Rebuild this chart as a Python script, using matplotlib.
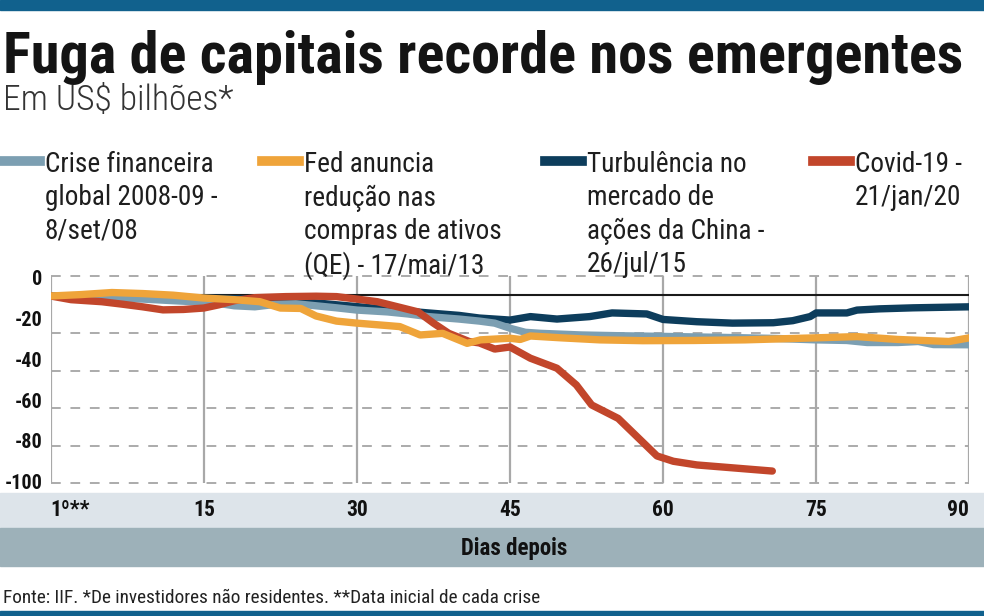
import matplotlib
matplotlib.use('Agg')
import matplotlib.pyplot as plt
from matplotlib import font_manager as fm
from matplotlib.lines import Line2D
from matplotlib.patches import Rectangle

# Dados (US$ bilhões, dias depois do início de cada crise)
crise_dias = [0, 3, 6, 9, 12, 14, 16, 18, 20, 22, 24, 26, 28, 30, 33, 35, 37, 40, 42, 43.5,
              45, 46.5, 48, 52, 56, 60, 66, 71, 75, 78, 80, 83, 85, 86.5, 90]
crise_vals = [-9, -9.5, -10, -10.5, -11.3, -11.8, -12.3, -13.8, -14.3, -13.1, -12.8, -13.8,
              -14.8, -15.9, -16.8, -17.8, -19.1, -20.3, -21.3, -22.3, -24.8, -26.8, -27.3,
              -28.1, -28.5, -28.8, -29.3, -29.8, -30.5, -30.8, -31.8, -31.8, -31.3, -32.8, -32.9]

fed_dias = [0, 3, 6, 9, 12, 15, 18, 20.5, 22.5, 24.5, 26, 28, 30, 33, 34.2, 36.2, 38.4, 40.8,
            42.1, 45, 46, 47, 50, 53.8, 58, 63, 68, 75, 79, 83, 88, 90]
fed_vals = [-9, -8.3, -7.3, -7.8, -8.6, -10, -10.8, -11.8, -14.9, -15.1, -18.8, -21.3, -22.3,
            -23.5, -24, -28.1, -27.3, -32.2, -30.5, -29.7, -30.3, -28.6, -29.5, -30.5, -30.9,
            -30.8, -30.5, -29.5, -28.9, -30.3, -31.3, -29.5]

china_dias = [0, 5, 10, 15, 20, 23, 28, 34, 37, 40, 42, 45, 47, 49.6, 52.8, 55, 58.4, 60,
              63.3, 66.8, 70.8, 72.7, 74.4, 75, 78, 79, 81.2, 84.5, 90]
china_vals = [-9, -9.3, -9.8, -10, -10.5, -11, -13.3, -16, -17.3, -18.5, -19.8, -20.8, -19.1,
              -20.3, -19.1, -17.3, -17.8, -20.5, -21.6, -22.3, -22.1, -21.1, -19.1, -17.3,
              -17.3, -15.9, -15.3, -14.8, -14.3]

covid_dias = [0, 2, 5, 7, 9, 11, 13, 15, 16.5, 18, 20, 23, 26, 28, 30, 32, 34, 36, 37.5, 39,
              41, 42, 43.5, 45, 47, 49.6, 51.5, 53, 55.6, 59.4, 61, 63.3, 70.7]
covid_vals = [-9, -10.8, -11.8, -13, -14.3, -15.8, -15.6, -14.9, -13.3, -11.3, -9.8, -9.3,
              -9.1, -9.3, -10.5, -11.8, -14.3, -16.8, -22.3, -27.3, -31.3, -32, -35, -34,
              -39.5, -44.4, -52.6, -62.4, -69, -87.4, -90, -91.8, -94.8]

legendas = ['Crise financeira\nglobal 2008-09 -\n8/set/08',
            'Fed anuncia\nredução nas\ncompras de ativos\n(QE) - 17/mai/13',
            'Turbulência no\nmercado de\nações da China -\n26/jul/15',
            'Covid-19 -\n21/jan/20']
cores = ['#7c9fb2', '#efa43a', '#0d3d5c', '#c2462b']

x_ticks = [0, 15, 30, 45, 60, 75, 90]
x_labels = ['1º**', '15', '30', '45', '60', '75', '90']
y_ticks = [0, -20, -40, -60, -80, -100]
y_labels = ['0', '-20', '-40', '-60', '-80', '-100']
grade = [0.8, -27, -45.6, -64, -82.5, -100.8]
linha_ref = -8.5


def pick_font(names):
    for n in names:
        try:
            fm.findfont(fm.FontProperties(family=n), fallback_to_default=False)
            return n
        except ValueError:
            continue
    return 'DejaVu Sans'


FONTE = pick_font(['Roboto Condensed', 'Liberation Sans Narrow', 'Open Sans Condensed',
                   'Liberation Sans', 'DejaVu Sans'])
plt.rcParams['font.family'] = [FONTE, 'DejaVu Sans']

fig = plt.figure(figsize=(9.84, 6.16), dpi=100)
W, H = 984, 616


def fx(px):
    return px / W


def fy(py):
    return 1 - py / H


# faixas de fundo
faixas = [(0, 10, '#11618d'), (493, 528, '#dde4ea'), (528, 566, '#9db1b9'), (611, 616, '#11618d')]
for y0, y1, c in faixas:
    fig.add_artist(Rectangle((0, fy(y1)), 1, fy(y0) - fy(y1), color=c,
                             transform=fig.transFigure, zorder=-5))

ax = fig.add_axes([fx(50.7), fy(483.3), fx(969.3) - fx(50.7), fy(276) - fy(483.3)])
ax.patch.set_alpha(0)
ax.set_xlim(0, 90)
ax.set_ylim(grade[-1], grade[0])
for s in ax.spines.values():
    s.set_visible(False)

for g in grade:
    ax.axhline(g, color='#ababab', lw=1.4, ls=(0, (5, 5)), clip_on=False, zorder=1)
for t in x_ticks:
    ax.axvline(t, color='#a8a8a8', lw=1.6, zorder=1)
ax.axhline(linha_ref, color='#1a1a1a', lw=1.5, zorder=1)

series = [(crise_dias, crise_vals), (fed_dias, fed_vals), (china_dias, china_vals), (covid_dias, covid_vals)]
ordem = [2, 0, 3, 1]
for i in ordem:
    d, v = series[i]
    ax.plot(d, v, color=cores[i], lw=5.3, solid_capstyle='round', solid_joinstyle='round',
            zorder=3 + ordem.index(i))

ax.set_xticks([])
ax.set_yticks(y_ticks)
ax.set_yticklabels(y_labels, fontweight='bold', fontsize=14.5, color='#111111')
ax.tick_params(axis='y', length=0, pad=6)

for i, (t, lab) in enumerate(zip(x_ticks, x_labels)):
    ha = 'left' if i == 0 else ('right' if i == len(x_ticks) - 1 else 'center')
    ax.text(t, -0.131, lab, transform=ax.get_xaxis_transform(), ha=ha, va='center',
            fontsize=15.5, fontweight='bold', color='#111111', zorder=10)

fig.text(fx(514), fy(548), 'Dias depois', ha='center', va='center', fontsize=16.5,
         fontweight='bold', color='#111111')

titulo = fig.text(fx(3), fy(73), 'Fuga de capitais recorde nos emergentes', ha='left',
                  va='baseline', fontsize=40, fontweight='black', color='#141414')
sub = fig.text(fx(3), fy(110), 'Em US$ bilhões*', ha='left', va='baseline', fontsize=18,
               fontweight='light', color='#333333')
rodape = fig.text(fx(3), fy(603), 'Fonte: IIF. *De investidores não residentes. **Data inicial de cada crise',
                  ha='left', va='baseline', fontsize=12, color='#222222')

leg_x = [3, 262, 545, 813]
leg_txt = []
for i, txt in enumerate(legendas):
    fig.add_artist(Line2D([fx(leg_x[i]), fx(leg_x[i] + 37)], [fy(161), fy(161)], color=cores[i],
                          lw=7, transform=fig.transFigure))
    leg_txt.append(fig.text(fx(leg_x[i] + 42), fy(151), txt, ha='left', va='top', fontsize=17,
                            linespacing=1.3, color='#1e1e1e'))

# ajusta larguras dos textos ao original
r = fig.canvas.get_renderer()


def fit(t, largura):
    bb = t.get_window_extent(r)
    t.set_fontsize(t.get_fontsize() * largura / bb.width)


fit(titulo, 960)
fit(sub, 230)
fit(rodape, 537)
fit(leg_txt[1], 198)
for t in leg_txt:
    t.set_fontsize(leg_txt[1].get_fontsize())

fig.savefig('out.png', dpi=100)
